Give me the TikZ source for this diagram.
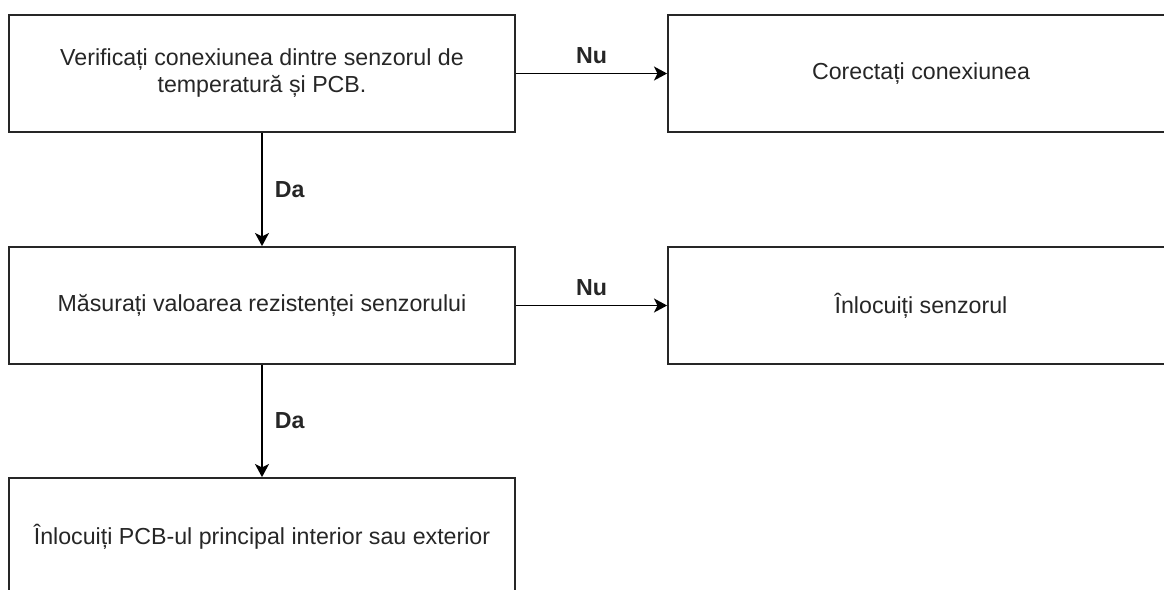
\documentclass[tikz,border=0pt]{standalone}
\usepackage{fontspec}
\setmainfont{Liberation Sans}
\usepackage{tikz}
\usetikzlibrary{arrows.meta}

\begin{document}
\begin{tikzpicture}[every node/.style={font=\fontsize{13.2pt}{15.4pt}\selectfont, text=black!85},
    box/.style={draw=black!85, line width=1pt, minimum width=10.12cm, minimum height=2.34cm, align=center},
    arr/.style={-{Stealth[length=7.5pt, width=8pt, inset=2pt]}, line width=0.9pt},
    lbl/.style={font=\fontsize{13.2pt}{15.4pt}\selectfont\bfseries}]

                \clip (0,0) rectangle (23.28,-11.8);

                % Nodes
                \node at (5.24,-1.47) (check) [box] {Verificați conexiunea dintre senzorul de\\temperatură și PCB.};
                \node at (18.42,-1.47) (fix) [box] {Corectați conexiunea};
                \node at (5.24,-6.11) (measure) [box] {Măsurați valoarea rezistenței senzorului};
                \node at (18.42,-6.11) (sensor) [box] {Înlocuiți senzorul};
                \node at (5.24,-10.73) (pcb) [box] {Înlocuiți PCB-ul principal interior sau exterior};

                % Arrows
                \draw[arr] (check) -- node[lbl, above=2pt] {Nu} (fix);
                \draw[arr] (check) -- node[lbl, right=3.5pt] {Da} (measure);
                \draw[arr] (measure) -- node[lbl, above=2pt] {Nu} (sensor);
                \draw[arr] (measure) -- node[lbl, right=3.5pt] {Da} (pcb);
            \end{tikzpicture}
\end{document}
